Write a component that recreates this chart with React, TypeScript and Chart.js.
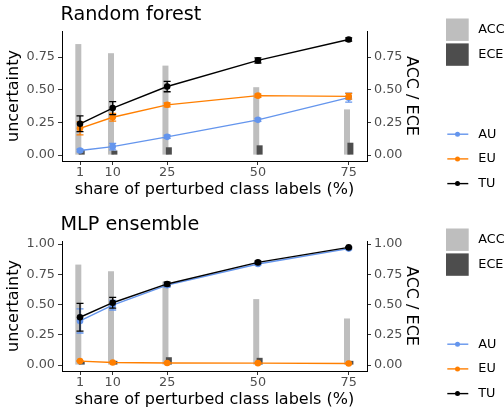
import React, { useEffect, useRef } from "react";
import { Chart, registerables } from "chart.js";

Chart.register(...registerables);

// Share of perturbed class labels (%) on the x axis
const shares = [1, 10, 25, 50, 75];
const xTickValues = [1, 10, 25, 50, 75];

// Random forest
const rfAcc = [0.85, 0.78, 0.685, 0.52, 0.35];
const rfEce = [0.04, 0.035, 0.06, 0.075, 0.095];
const rfAU = [0.035, 0.065, 0.14, 0.27, 0.44];
const rfAUErr = [0.01, 0.025, 0.012, 0.012, 0.035];
const rfEU = [0.205, 0.29, 0.385, 0.455, 0.45];
const rfEUErr = [0.05, 0.03, 0.015, 0.012, 0.022];
const rfTU = [0.24, 0.36, 0.525, 0.725, 0.885];
const rfTUErr = [0.06, 0.05, 0.04, 0.02, 0.012];

// MLP ensemble
const mlpAcc = [0.83, 0.775, 0.69, 0.545, 0.385];
const mlpEce = [0.03, 0.035, 0.065, 0.06, 0.035];
const mlpAU = [0.365, 0.495, 0.66, 0.835, 0.962];
const mlpAUErr = [0.1, 0.04, 0.015, 0.01, 0.008];
const mlpEU = [0.033, 0.022, 0.017, 0.016, 0.013];
const mlpEUErr = [0.003, 0.002, 0.002, 0.002, 0.002];
const mlpTU = [0.395, 0.515, 0.67, 0.848, 0.972];
const mlpTUErr = [0.115, 0.045, 0.015, 0.01, 0.005];

const yTicksRF = [0, 0.25, 0.5, 0.75];
const yTicksMLP = [0, 0.25, 0.5, 0.75, 1];

const COLORS = {
  AU: "#6495ED",
  EU: "#FF7F00",
  TU: "#000000",
  ACC: "#BEBEBE",
  ECE: "#4D4D4D",
};

const FONT = "DejaVu Sans";
const TICK_GREY = "#4D4D4D";

const X_MIN = -3.96;
const X_MAX = 80.04;
const PLOT_WIDTH = 305;
// half-bar dodge between the ACC and ECE columns, in x units
const DODGE = 1.7 / (PLOT_WIDTH / (X_MAX - X_MIN));

type Series = { label: string; values: number[]; errors: number[]; color: string };

// Vertical error bars with caps for every line series
const errorBarsPlugin = {
  id: "errorBars",
  afterDatasetDraw(chart: any, args: any) {
    const ds = chart.data.datasets[args.index];
    if (!ds.errors) return;
    const meta = args.meta;
    const xs = chart.scales[meta.xAxisID];
    const ys = chart.scales[meta.yAxisID];
    const ctx = chart.ctx;
    ctx.save();
    ctx.strokeStyle = ds.borderColor;
    ctx.lineWidth = 1.3;
    ds.data.forEach((pt: { x: number; y: number }, i: number) => {
      const e = ds.errors[i];
      const x = xs.getPixelForValue(pt.x);
      const lo = ys.getPixelForValue(pt.y - e);
      const hi = ys.getPixelForValue(pt.y + e);
      ctx.beginPath();
      ctx.moveTo(x, lo);
      ctx.lineTo(x, hi);
      ctx.moveTo(x - 3.5, lo);
      ctx.lineTo(x + 3.5, lo);
      ctx.moveTo(x - 3.5, hi);
      ctx.lineTo(x + 3.5, hi);
      ctx.stroke();
    });
    ctx.restore();
  },
};

// Panel title plus the two legend groups on the right
const panelDecorPlugin = {
  id: "panelDecor",
  afterDraw(chart: any, _args: any, opts: any) {
    const ctx = chart.ctx;
    const ca = chart.chartArea;
    ctx.save();
    ctx.fillStyle = "#000";
    ctx.font = `19.2px "${FONT}"`;
    ctx.textBaseline = "alphabetic";
    ctx.textAlign = "left";
    ctx.fillText(opts.title, ca.left - 1.5, ca.top - 11.5);

    const keyX = ca.right + 79;
    const keyW = 22.7;
    const textX = keyX + 32.3;
    ctx.font = `12.8px "${FONT}"`;
    ctx.textBaseline = "middle";

    const bars = chart.data.datasets.filter((d: any) => d.type === "bar");
    const barOrder = ["ACC", "ECE"];
    barOrder.forEach((name, i) => {
      const ds = bars.find((d: any) => d.label === name);
      const top = ca.top - 12.5 + i * 24.9;
      ctx.fillStyle = ds.backgroundColor;
      ctx.fillRect(keyX, top, keyW, 22.4);
      ctx.fillStyle = "#000";
      ctx.fillText(name, textX, top + 11.2);
    });

    const lines = chart.data.datasets.filter((d: any) => d.type === "line");
    const lineOrder = ["AU", "EU", "TU"];
    lineOrder.forEach((name, i) => {
      const ds = lines.find((d: any) => d.label === name);
      const y = ca.top + 103.2 + i * 24.7;
      ctx.strokeStyle = ds.borderColor;
      ctx.lineWidth = 1.4;
      ctx.beginPath();
      ctx.moveTo(keyX + 1.3, y);
      ctx.lineTo(keyX + 22.3, y);
      ctx.stroke();
      ctx.fillStyle = ds.borderColor;
      ctx.beginPath();
      ctx.arc(keyX + 11.5, y, 2.5, 0, Math.PI * 2);
      ctx.fill();
      ctx.fillStyle = "#000";
      ctx.fillText(name, textX, y);
    });
    ctx.restore();
  },
};

type PanelProps = {
  title: string;
  acc: number[];
  ece: number[];
  series: Series[];
  yMin: number;
  yMax: number;
  yTicks: number[];
  height: number;
  padTop: number;
  padBottom: number;
};

function Panel(props: PanelProps) {
  const ref = useRef<HTMLCanvasElement | null>(null);

  useEffect(() => {
    if (!ref.current) return;
    const { title, acc, ece, series, yMin, yMax, yTicks, padTop, padBottom } = props;

    const axisCommon = {
      grid: { drawOnChartArea: false, drawTicks: true, tickLength: 4, tickColor: "#333333", lineWidth: 1 },
      border: { display: true, color: "#000000", width: 1 },
    };

    const yAxis = (position: "left" | "right", width: number, text: string) => ({
      type: "linear" as const,
      position,
      min: yMin,
      max: yMax,
      afterBuildTicks: (s: any) => {
        s.ticks = yTicks.map((v) => ({ value: v }));
      },
      afterFit: (s: any) => {
        s.width = width;
      },
      ...axisCommon,
      ticks: {
        color: TICK_GREY,
        padding: 3,
        font: { family: FONT, size: 12.8 },
        callback: (v: any) => Number(v).toFixed(2),
      },
      title: {
        display: true,
        text,
        color: "#000",
        font: { family: FONT, size: 16 },
        padding: { top: 4, bottom: 0 },
      },
    });

    const lineDatasets = series.map((s, i) => ({
      type: "line" as const,
      label: s.label,
      data: shares.map((x, k) => ({ x, y: s.values[k] })),
      errors: s.errors,
      borderColor: s.color,
      backgroundColor: s.color,
      borderWidth: 1.4,
      pointRadius: 3.3,
      pointBorderWidth: 0,
      pointBackgroundColor: s.color,
      tension: 0,
      xAxisID: "x",
      yAxisID: "y",
      order: 2 - i,
    }));

    const barCommon = {
      type: "bar" as const,
      borderWidth: 0,
      grouped: false,
      maxBarThickness: 6,
      yAxisID: "y2",
    };

    const chart = new Chart(ref.current, {
      type: "line",
      data: {
        datasets: [
          ...lineDatasets,
          {
            ...barCommon,
            label: "ECE",
            data: shares.map((x, k) => ({ x, y: ece[k] })),
            backgroundColor: COLORS.ECE,
            xAxisID: "xEce",
            order: 3,
          },
          {
            ...barCommon,
            label: "ACC",
            data: shares.map((x, k) => ({ x, y: acc[k] })),
            backgroundColor: COLORS.ACC,
            xAxisID: "xAcc",
            order: 4,
          },
        ] as any,
      },
      options: {
        responsive: false,
        animation: false,
        events: [],
        layout: { padding: { top: padTop, right: 79, bottom: padBottom, left: 0 } },
        plugins: {
          legend: { display: false },
          tooltip: { enabled: false },
          panelDecor: { title },
        } as any,
        scales: {
          x: {
            type: "linear",
            position: "bottom",
            min: X_MIN,
            max: X_MAX,
            offset: false,
            afterBuildTicks: (s: any) => {
              s.ticks = xTickValues.map((v) => ({ value: v }));
            },
            afterFit: (s: any) => {
              s.height = 39;
            },
            ...axisCommon,
            ticks: {
              color: TICK_GREY,
              padding: 0,
              maxRotation: 0,
              autoSkip: false,
              font: { family: FONT, size: 12.8 },
              callback: (v: any) => String(v),
            },
            title: {
              display: true,
              text: "share of perturbed class labels (%)",
              color: "#000",
              font: { family: FONT, size: 16 },
              padding: { top: 0, bottom: 1 },
            },
          },
          xAcc: { type: "linear", display: false, offset: false, min: X_MIN + DODGE, max: X_MAX + DODGE },
          xEce: { type: "linear", display: false, offset: false, min: X_MIN - DODGE, max: X_MAX - DODGE },
          y: yAxis("left", 62, "uncertainty"),
          y2: yAxis("right", 58, "ACC / ECE"),
        } as any,
      },
      plugins: [errorBarsPlugin, panelDecorPlugin],
    });

    return () => chart.destroy();
  }, []);

  return <canvas ref={ref} width={504} height={props.height} style={{ display: "block" }} />;
}

export default function App() {
  Chart.defaults.font.family = FONT;
  return (
    <div style={{ position: "absolute", left: 0, top: 0, width: 504, height: 413, background: "#ffffff" }}>
      <Panel
        title="Random forest"
        acc={rfAcc}
        ece={rfEce}
        series={[
          { label: "AU", values: rfAU, errors: rfAUErr, color: COLORS.AU },
          { label: "EU", values: rfEU, errors: rfEUErr, color: COLORS.EU },
          { label: "TU", values: rfTU, errors: rfTUErr, color: COLORS.TU },
        ]}
        yMin={-0.045}
        yMax={0.95}
        yTicks={yTicksRF}
        height={200}
        padTop={31}
        padBottom={0}
      />
      <Panel
        title="MLP ensemble"
        acc={mlpAcc}
        ece={mlpEce}
        series={[
          { label: "AU", values: mlpAU, errors: mlpAUErr, color: COLORS.AU },
          { label: "EU", values: mlpEU, errors: mlpEUErr, color: COLORS.EU },
          { label: "TU", values: mlpTU, errors: mlpTUErr, color: COLORS.TU },
        ]}
        yMin={-0.0488}
        yMax={1.0248}
        yTicks={yTicksMLP}
        height={213}
        padTop={41}
        padBottom={3}
      />
    </div>
  );
}
